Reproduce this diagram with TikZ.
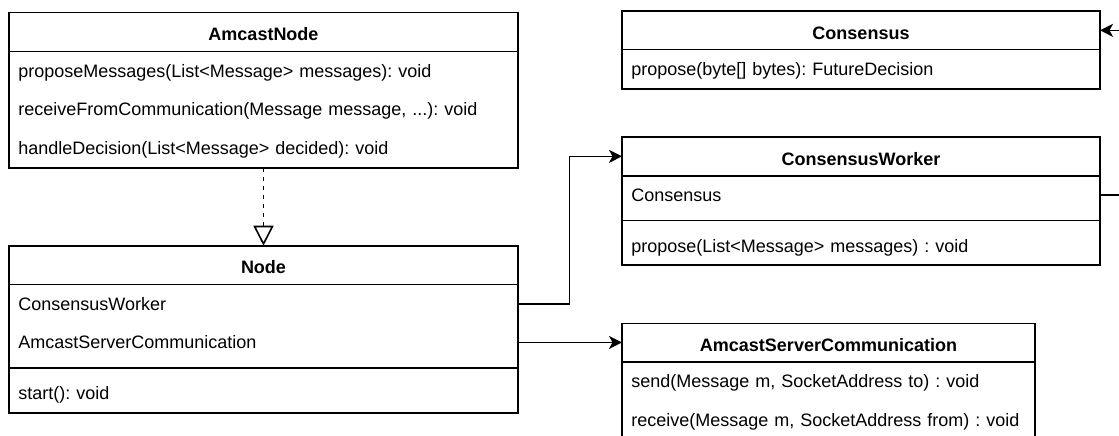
\documentclass[tikz,border=0pt]{standalone}
\usepackage{fontspec}
\setmainfont{Liberation Sans}
\usetikzlibrary{arrows.meta}
\frenchspacing

\tikzset{
  classbox/.style={draw, fill=white, anchor=north west, inner sep=0pt, outer sep=0pt},
  head/.style={anchor=north west, inner sep=0pt, outer sep=0pt, minimum width=#1,
    minimum height=38.7pt, text height=17.6pt, text depth=0pt,
    font=\fontsize{18pt}{21.6pt}\selectfont\bfseries},
  row/.style={anchor=north west, inner xsep=9.3pt, inner ysep=0pt, outer sep=0pt,
    minimum height=38.7pt, text width=#1, align=left, text height=12.9pt, text depth=0pt,
    font=\fontsize{18pt}{21.6pt}\selectfont},
  link/.style={-{Stealth[length=13pt, width=13pt, inset=3.5pt]}},
  realize/.style={dash pattern=on 4.5pt off 4.5pt, -{Triangle[open, length=20pt, width=20pt]}}
}

\begin{document}
\begin{tikzpicture}[x=1pt, y=-1pt, line width=1.6pt]
  \useasboundingbox (0,0) rectangle (1119,436);
  \fill[white] (0,0) rectangle (1119,436);
  \clip (0,0) rectangle (1119,436);

  % AmcastNode interface
  \node[classbox, minimum width=509pt, minimum height=155pt] (amcast) at (9,12.7) {};
  \node[head=509pt] (amcast-h) at (amcast.north west) {AmcastNode};
  \draw (amcast-h.south west) -- (amcast-h.south east);
  \node[row=490.4pt] (amcast-r1) at (amcast-h.south west) {proposeMessages(List<Message> messages): void};
  \node[row=490.4pt] (amcast-r2) at (amcast-r1.south west) {receiveFromCommunication(Message message, ...): void};
  \node[row=490.4pt] (amcast-r3) at (amcast-r2.south west) {handleDecision(List<Message> decided): void};

  % Node class
  \node[classbox, minimum width=509pt, minimum height=167pt] (nodecls) at (9,245.7) {};
  \node[head=509pt] (nodecls-h) at (nodecls.north west) {Node};
  \draw (nodecls-h.south west) -- (nodecls-h.south east);
  \node[row=490.4pt] (nodecls-r1) at (nodecls-h.south west) {ConsensusWorker};
  \node[row=490.4pt] (nodecls-r2) at (nodecls-r1.south west) {AmcastServerCommunication};
  \draw ([yshift=-6pt]nodecls-r2.south west) -- ([yshift=-6pt]nodecls-r2.south east);
  \node[row=490.4pt] (nodecls-m1) at ([yshift=-12pt]nodecls-r2.south west) {start(): void};

  % Consensus class
  \node[classbox, minimum width=478pt, minimum height=78pt] (cons) at (622,11) {};
  \node[head=478pt] (cons-h) at (cons.north west) {Consensus};
  \draw (cons-h.south west) -- (cons-h.south east);
  \node[row=459.4pt] (cons-m1) at (cons-h.south west) {propose(byte[] bytes): FutureDecision};

  % ConsensusWorker class
  \node[classbox, minimum width=478pt, minimum height=128.1pt] (cw) at (622,137) {};
  \node[head=478pt] (cw-h) at (cw.north west) {ConsensusWorker};
  \draw (cw-h.south west) -- (cw-h.south east);
  \node[row=459.4pt] (cw-r1) at (cw-h.south west) {Consensus};
  \draw ([yshift=-6pt]cw-r1.south west) -- ([yshift=-6pt]cw-r1.south east);
  \node[row=459.4pt] (cw-m1) at ([yshift=-12pt]cw-r1.south west) {propose(List<Message> messages) : void};

  % AmcastServerCommunication class
  \node[classbox, minimum width=413pt, minimum height=125pt] (asc) at (622,323.3) {};
  \node[head=413pt] (asc-h) at (asc.north west) {AmcastServerCommunication};
  \draw (asc-h.south west) -- (asc-h.south east);
  \node[row=394.4pt] (asc-m1) at (asc-h.south west) {send(Message m, SocketAddress to) : void};
  \node[row=394.4pt] (asc-m2) at (asc-m1.south west) {receive(Message m, SocketAddress from) : void};

  % Relations
  \draw[realize] (amcast.south) -- (nodecls.north);
  \draw[link] (nodecls-r1.east) -- ++(51.6,0) |- (cw-h.west);
  \draw[link] (nodecls-r2.east) -- (asc-h.west |- nodecls-r2.east);
  \draw[link] (cw-r1.east) -- ++(40,0) |- (cons-h.east);
\end{tikzpicture}
\end{document}
